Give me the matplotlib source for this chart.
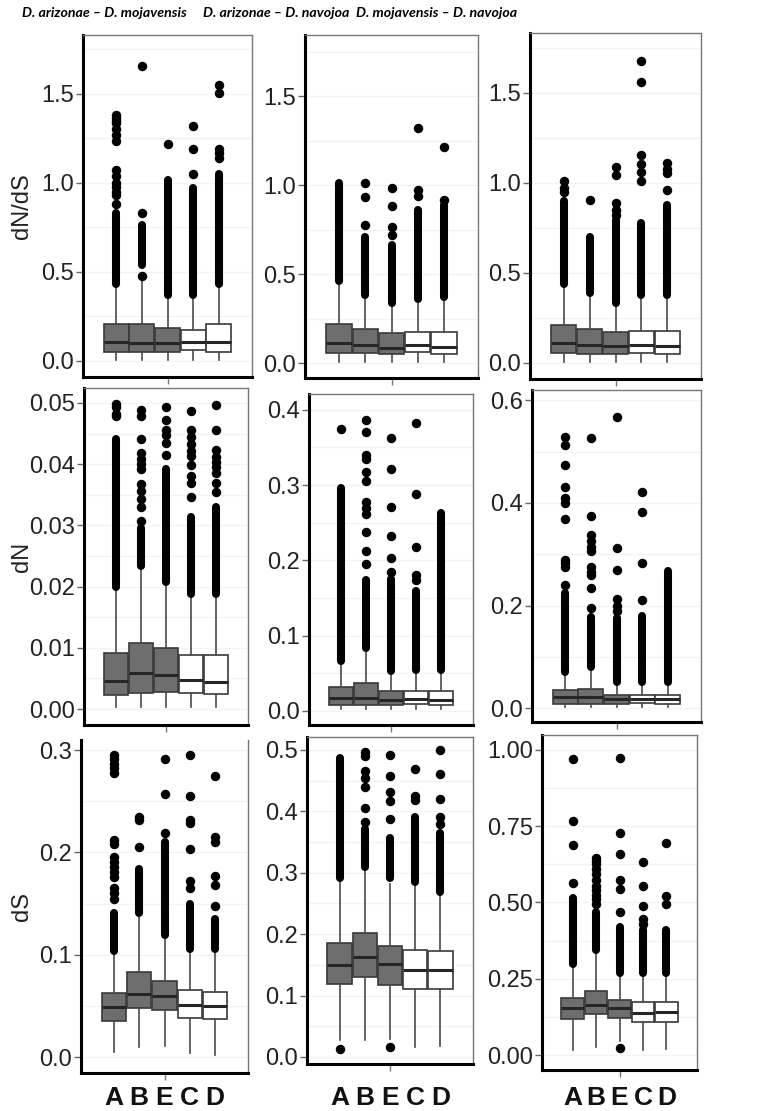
import numpy as np
import matplotlib.pyplot as plt
from matplotlib.transforms import blended_transform_factory

plt.rcParams['font.family'] = ['Liberation Sans', 'DejaVu Sans']

groups = ['A', 'B', 'E', 'C', 'D']
titles = ['D. arizonae – D. mojavensis', 'D. arizonae – D. navojoa', 'D. mojavensis – D. navojoa']
row_labels = ['dN/dS', 'dN', 'dS']

# box stats per group: [whisker low, q1, median, q3, whisker high]
# sparse outliers per group, and (low, high) of the packed run of outliers
ratio_am_box = [[0.005, 0.052, 0.108, 0.205, 0.42], [0.005, 0.05, 0.10, 0.208, 0.455],
                [0.005, 0.05, 0.10, 0.184, 0.36], [0.005, 0.06, 0.105, 0.174, 0.36],
                [0.005, 0.05, 0.105, 0.208, 0.42]]
ratio_am_out = [[1.38, 1.365, 1.35, 1.335, 1.30, 1.27, 1.235, 1.07, 1.04, 1.0, 0.975, 0.95, 0.93, 0.88],
                [1.655, 0.83, 0.475], [1.22], [1.32, 1.19, 1.05],
                [1.55, 1.505, 1.19, 1.165, 1.14]]
ratio_am_band = [(0.43, 0.83), (0.54, 0.765), (0.37, 1.015), (0.37, 0.97), (0.43, 1.05)]

ratio_an_box = [[0.005, 0.055, 0.11, 0.22, 0.44], [0.005, 0.055, 0.10, 0.19, 0.37],
                [0.005, 0.05, 0.085, 0.17, 0.33], [0.005, 0.06, 0.10, 0.175, 0.35],
                [0.005, 0.05, 0.09, 0.175, 0.36]]
ratio_an_out = [[], [1.01, 0.935, 0.775], [0.985, 0.88, 0.765, 0.72],
                [1.32, 0.975, 0.94], [1.215, 0.915]]
ratio_an_band = [(0.46, 1.01), (0.38, 0.71), (0.34, 0.665), (0.36, 0.86), (0.37, 0.89)]

ratio_mn_box = [[0.005, 0.055, 0.11, 0.21, 0.43], [0.005, 0.05, 0.10, 0.19, 0.38],
                [0.005, 0.05, 0.095, 0.17, 0.32], [0.005, 0.055, 0.10, 0.18, 0.36],
                [0.005, 0.05, 0.095, 0.175, 0.37]]
ratio_mn_out = [[1.01, 0.97, 0.95], [0.905], [1.09, 1.045, 0.887, 0.85, 0.82],
                [1.68, 1.56, 1.155, 1.105, 1.063, 1.01], [1.11, 1.08, 1.054, 0.96]]
ratio_mn_band = [(0.44, 0.90), (0.39, 0.70), (0.335, 0.795), (0.378, 0.78), (0.378, 0.88)]

dn_am_box = [[0.0003, 0.0023, 0.0046, 0.0092, 0.0195], [0.0003, 0.0027, 0.0059, 0.0108, 0.0228],
             [0.0003, 0.0028, 0.0056, 0.0100, 0.0205], [0.0003, 0.0026, 0.0047, 0.0088, 0.0183],
             [0.0003, 0.0025, 0.0045, 0.0088, 0.0183]]
dn_am_out = [[0.0499, 0.0493, 0.0482, 0.0478],
             [0.0489, 0.0478, 0.0442, 0.0418, 0.0408, 0.0400, 0.0393, 0.0368, 0.0357, 0.0343, 0.0330, 0.0308],
             [0.0493, 0.0472, 0.0456, 0.0448, 0.0434, 0.0415],
             [0.0487, 0.0456, 0.0444, 0.0433, 0.0422, 0.0413, 0.0399, 0.0381, 0.0369, 0.0347],
             [0.0497, 0.0456, 0.0423, 0.0412, 0.0403, 0.0395, 0.0385, 0.0370, 0.0354]]
dn_am_band = [(0.0200, 0.0442), (0.0234, 0.0296), (0.0208, 0.0393), (0.0188, 0.0314), (0.0188, 0.0330)]

dn_an_box = [[0.003, 0.008, 0.017, 0.032, 0.063], [0.003, 0.008, 0.017, 0.037, 0.080],
             [0.003, 0.008, 0.014, 0.026, 0.050], [0.003, 0.009, 0.0155, 0.026, 0.052],
             [0.003, 0.008, 0.014, 0.026, 0.052]]
dn_an_out = [[0.374], [0.387, 0.371, 0.340, 0.335, 0.318, 0.305, 0.277, 0.269, 0.262, 0.238, 0.213, 0.195],
             [0.362, 0.321, 0.271, 0.232, 0.203, 0.185], [0.383, 0.288, 0.218, 0.180, 0.174], []]
dn_an_band = [(0.066, 0.296), (0.083, 0.174), (0.053, 0.175), (0.055, 0.160), (0.055, 0.263)]

dn_mn_box = [[0.002, 0.009, 0.021, 0.035, 0.068], [0.002, 0.009, 0.021, 0.038, 0.077],
             [0.002, 0.009, 0.018, 0.025, 0.048], [0.002, 0.011, 0.018, 0.025, 0.048],
             [0.002, 0.009, 0.018, 0.025, 0.048]]
dn_mn_out = [[0.528, 0.512, 0.474, 0.43, 0.41, 0.40, 0.368, 0.288, 0.283, 0.275, 0.24],
             [0.526, 0.375, 0.338, 0.325, 0.315, 0.307, 0.276, 0.266, 0.26, 0.235, 0.196],
             [0.567, 0.312, 0.27, 0.213, 0.20, 0.19], [0.422, 0.382, 0.282, 0.21], []]
dn_mn_band = [(0.071, 0.225), (0.08, 0.178), (0.051, 0.175), (0.051, 0.18), (0.051, 0.267)]

ds_am_box = [[0.005, 0.035, 0.049, 0.063, 0.100], [0.0095, 0.048, 0.062, 0.083, 0.138],
             [0.011, 0.046, 0.060, 0.074, 0.116], [0.004, 0.0385, 0.051, 0.0655, 0.103],
             [0.002, 0.037, 0.050, 0.064, 0.103]]
ds_am_out = [[0.295, 0.291, 0.287, 0.283, 0.278, 0.212, 0.208, 0.196, 0.191, 0.186, 0.181, 0.176, 0.165, 0.160, 0.155],
             [0.235, 0.232, 0.205], [0.291, 0.257, 0.219],
             [0.295, 0.255, 0.232, 0.229, 0.203, 0.172, 0.165],
             [0.275, 0.215, 0.21, 0.177, 0.168, 0.148]]
ds_am_band = [(0.104, 0.1405), (0.141, 0.184), (0.119, 0.21), (0.106, 0.15), (0.106, 0.135)]

ds_an_box = [[0.028, 0.119, 0.150, 0.185, 0.288], [0.028, 0.130, 0.163, 0.2025, 0.305],
             [0.03, 0.118, 0.151, 0.181, 0.282], [0.017, 0.110, 0.142, 0.175, 0.278],
             [0.018, 0.110, 0.142, 0.172, 0.262]]
ds_an_out = [[0.0125], [0.497, 0.49, 0.465, 0.454, 0.44, 0.405, 0.383],
             [0.492, 0.458, 0.432, 0.416, 0.387, 0.017], [0.469, 0.425, 0.418],
             [0.50, 0.46, 0.42, 0.39, 0.38]]
ds_an_band = [(0.292, 0.487), (0.31, 0.372), (0.291, 0.356), (0.285, 0.39), (0.268, 0.365)]

ds_mn_box = [[0.016, 0.117, 0.153, 0.186, 0.29], [0.027, 0.134, 0.164, 0.211, 0.33],
             [0.045, 0.120, 0.153, 0.180, 0.265], [0.016, 0.109, 0.139, 0.175, 0.265],
             [0.02, 0.109, 0.142, 0.175, 0.265]]
ds_mn_out = [[0.969, 0.767, 0.689, 0.563],
             [0.645, 0.635, 0.625, 0.61, 0.595, 0.575, 0.555, 0.54, 0.525, 0.51, 0.495],
             [0.975, 0.727, 0.66, 0.575, 0.545, 0.47, 0.022],
             [0.634, 0.555, 0.49, 0.445, 0.43], [0.696, 0.52, 0.495]]
ds_mn_band = [(0.30, 0.514), (0.345, 0.47), (0.268, 0.42), (0.27, 0.41), (0.27, 0.41)]

y_ticks = [[0.0, 0.5, 1.0, 1.5]] * 3 + \
          [[0.0, 0.01, 0.02, 0.03, 0.04, 0.05], [0.0, 0.1, 0.2, 0.3, 0.4], [0.0, 0.2, 0.4, 0.6]] + \
          [[0.0, 0.1, 0.2, 0.3], [0.0, 0.1, 0.2, 0.3, 0.4, 0.5], [0.0, 0.25, 0.5, 0.75, 1.0]]
y_fmt = ['%.1f'] * 3 + ['%.2f', '%.1f', '%.1f'] + ['%.1f', '%.1f', '%.2f']
y_lims = [(-0.09, 1.83), (-0.084, 1.843), (-0.089, 1.833),
          (-0.0026, 0.05245), (-0.0186, 0.421), (-0.027, 0.620),
          (-0.0156, 0.31), (-0.0114, 0.521), (-0.049, 1.049)]

panels = [(ratio_am_box, ratio_am_out, ratio_am_band), (ratio_an_box, ratio_an_out, ratio_an_band),
          (ratio_mn_box, ratio_mn_out, ratio_mn_band), (dn_am_box, dn_am_out, dn_am_band),
          (dn_an_box, dn_an_out, dn_an_band), (dn_mn_box, dn_mn_out, dn_mn_band),
          (ds_am_box, ds_am_out, ds_am_band), (ds_an_box, ds_an_out, ds_an_band),
          (ds_mn_box, ds_mn_out, ds_mn_band)]

# panel frames in pixels: left, right, top, bottom
frames = [(83, 252, 35, 377), (305, 478, 35, 378), (530, 701, 33, 379),
          (84, 248, 388, 725), (309, 473, 394, 725), (532, 701, 390, 722),
          (81, 248, 740, 1073), (307, 473, 737, 1064), (542, 697, 735, 1070)]

W, H = 768, 1111
fig = plt.figure(figsize=(W / 100, H / 100), dpi=100)
pos = np.arange(1, 6)

for k, (box, out, band) in enumerate(panels):
    l, r, t, b = frames[k]
    ax = fig.add_axes([l / W, 1 - b / H, (r - l) / W, (b - t) / H])
    ax.set_xlim(-0.3, 6.3)
    ax.set_ylim(*y_lims[k])

    yt = y_ticks[k]
    grid = list(yt) + [v + (yt[1] - yt[0]) / 2 for v in yt]
    for g in grid:
        ax.axhline(g, color='#f3f3f3', lw=0.9, zorder=0)

    stats = [dict(whislo=s[0], q1=s[1], med=s[2], q3=s[3], whishi=s[4], fliers=o)
             for s, o in zip(box, out)]
    bp = ax.bxp(stats, positions=pos, widths=0.97, patch_artist=True, showcaps=False,
                boxprops=dict(edgecolor='#3a3a3a', linewidth=1.2),
                medianprops=dict(color='#262626', linewidth=2.2),
                whiskerprops=dict(color='#4a4a4a', linewidth=1.2),
                flierprops=dict(marker='o', markerfacecolor='black', markeredgecolor='black',
                                markersize=5.8, linestyle='none'))
    for i, patch in enumerate(bp['boxes']):
        patch.set_facecolor('#6e6e6e' if i < 3 else 'white')
    lc = ax.vlines(pos, [bd[0] for bd in band], [bd[1] for bd in band],
                   colors='black', linewidth=5.8)
    lc.set_capstyle('round')

    ax.set_yticks(yt)
    ax.set_yticklabels([y_fmt[k] % v for v in yt])
    ax.tick_params(axis='y', length=5, width=1, color='#666666', labelsize=17,
                   labelcolor='#222222', pad=1.5)
    ax.set_xticks([3])
    ax.set_xticklabels([])
    ax.tick_params(axis='x', length=5, width=1, color='#777777')

    for side in ['left', 'bottom']:
        ax.spines[side].set_linewidth(2.2)
        ax.spines[side].set_color('black')
    for side in ['top', 'right']:
        ax.spines[side].set_linewidth(1.0)
        ax.spines[side].set_color('#777777')
    if k == 6:
        ax.spines['top'].set_visible(False)

    row, col = divmod(k, 3)
    if row == 2:
        tr = blended_transform_factory(ax.transData, fig.transFigure)
        for p, g in zip(pos, groups):
            ax.text(p, 1 - 1098 / H, g, transform=tr, ha='center', va='center',
                    fontsize=19, fontweight='bold', color='#111111')
    if col == 0:
        fig.text(22 / W, 1 - (t + b) / 2 / H, row_labels[row], rotation=90,
                 ha='center', va='center', fontsize=17, color='#222222')

title_x = [104, 276, 437]
for x, s in zip(title_x, titles):
    fig.text(x / W, 1 - 13 / H, s, ha='center', va='center', fontsize=10.2,
             fontweight='bold', fontstyle='italic', family=['Lato', 'DejaVu Sans'])

fig.savefig('out.png', dpi=100)
